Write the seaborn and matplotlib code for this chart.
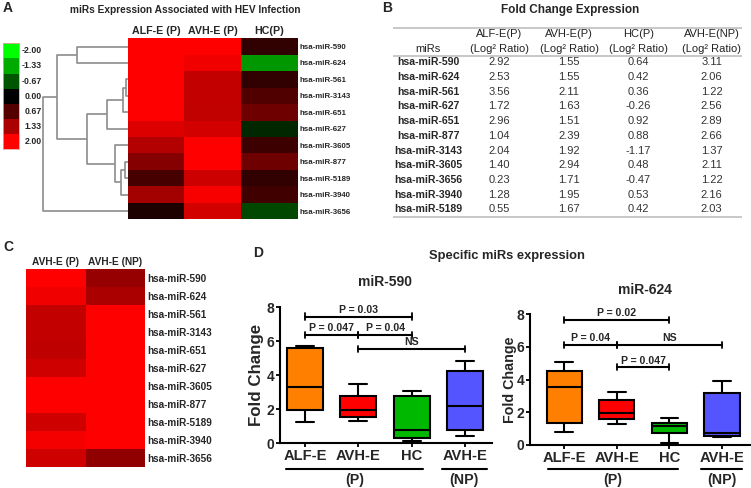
import numpy as np
import pandas as pd
import matplotlib
matplotlib.use("Agg")
import matplotlib.pyplot as plt
import matplotlib.transforms as mtransforms
from matplotlib.colors import LinearSegmentedColormap
import seaborn as sns

sns.set_theme(style="white")
plt.rcParams["font.family"] = ["Liberation Sans", "DejaVu Sans"]

# ---------------- data ----------------
# Panel A heatmap (display values, log2 ratio)
mirs_a = ["hsa-miR-590", "hsa-miR-624", "hsa-miR-561", "hsa-miR-3143", "hsa-miR-651",
          "hsa-miR-627", "hsa-miR-3605", "hsa-miR-877", "hsa-miR-5189", "hsa-miR-3940",
          "hsa-miR-3656"]
cols_a = ["ALF-E (P)", "AVH-E (P)", "HC(P)"]
a_alf = [2.92, 2.53, 3.56, 2.04, 2.96, 1.72, 1.40, 1.04, 0.55, 1.28, 0.23]
a_avh = [2.20, 1.88, 1.53, 1.53, 1.50, 1.65, 2.50, 2.40, 1.60, 1.95, 1.65]
a_hc = [0.39, -1.18, 0.39, 0.63, 0.86, -0.31, 0.47, 0.86, 0.39, 0.51, -0.55]

# dendrogram linkage: (child a, child b, distance); new ids start at 11
link_a = [(0, 1, 0.597), (2, 3, 0.02), (12, 4, 0.052), (13, 5, 0.249),
          (7, 8, 0.032), (15, 9, 0.083), (6, 16, 0.15), (14, 17, 0.486),
          (11, 18, 0.841), (19, 10, 1.0)]

legend_levels = [-2.00, -1.33, -0.67, 0.00, 0.67, 1.33, 2.00]

# Panel B table
table_mirs = ["hsa-miR-590", "hsa-miR-624", "hsa-miR-561", "hsa-miR-627", "hsa-miR-651",
              "hsa-miR-877", "hsa-miR-3143", "hsa-miR-3605", "hsa-miR-3656",
              "hsa-miR-3940", "hsa-miR-5189"]
table_heads = ["ALF-E(P)", "AVH-E(P)", "HC(P)", "AVH-E(NP)"]
t_alf = [2.92, 2.53, 3.56, 1.72, 2.96, 1.04, 2.04, 1.40, 0.23, 1.28, 0.55]
t_avh = [1.55, 1.55, 2.11, 1.63, 1.51, 2.39, 1.92, 2.94, 1.71, 1.95, 1.67]
t_hc = [0.64, 0.42, 0.36, -0.26, 0.92, 0.88, -1.17, 0.48, -0.47, 0.53, 0.42]
t_np = [3.11, 2.06, 1.22, 2.56, 2.89, 2.66, 1.37, 2.11, 1.22, 2.16, 2.03]

# Panel C heatmap
cols_c = ["AVH-E (P)", "AVH-E (NP)"]
c_p = [2.20, 1.88, 1.53, 1.53, 1.49, 1.61, 2.40, 2.40, 1.61, 1.92, 1.61]
c_np = [1.18, 1.33, 2.20, 2.20, 2.20, 2.20, 2.20, 2.20, 2.20, 2.20, 1.14]

# Panel D box plots: five-number summaries (min, Q1, median, Q3, max)
box_keys = ["ALF-E", "AVH-E", "HC", "AVH-E NP"]
box_labels = ["ALF-E", "AVH-E", "HC", "AVH-E"]
box_colors = ["#ff8000", "#ff0000", "#00b800", "#5555ff"]
m590 = {"ALF-E": [1.24, 1.96, 3.30, 5.63, 5.74],
        "AVH-E": [1.31, 1.57, 1.96, 2.80, 3.47],
        "HC": [0.14, 0.29, 0.78, 2.80, 3.06],
        "AVH-E NP": [0.45, 0.78, 2.18, 4.24, 4.83]}
m624 = {"ALF-E": [0.81, 1.32, 3.54, 4.54, 5.05],
        "AVH-E": [1.26, 1.57, 1.97, 2.73, 3.22],
        "HC": [0.10, 0.75, 1.18, 1.36, 1.63],
        "AVH-E NP": [0.51, 0.57, 0.75, 3.16, 3.93]}
# significance brackets: (x1 index, x2 index, y, label)
sig590 = [(0, 2, 7.45, "P = 0.03"), (0, 1, 6.37, "P = 0.047"),
          (1, 2, 6.37, "P = 0.04"), (1, 3, 5.55, "NS")]
sig624 = [(0, 2, 7.63, "P = 0.02"), (0, 1, 6.10, "P = 0.04"),
          (1, 3, 6.10, "NS"), (1, 2, 4.74, "P = 0.047")]

# ---------------- figure ----------------
W, H = 751, 488
fig = plt.figure(figsize=(W / 100, H / 100), dpi=100)
fig.patch.set_facecolor("white")


def rect(l, t, r, b):
    return [l / W, 1 - b / H, (r - l) / W, (b - t) / H]


ov = fig.add_axes([0, 0, 1, 1])
ov.set_xlim(0, W)
ov.set_ylim(H, 0)
ov.axis("off")
ov.patch.set_alpha(0)

cmap = LinearSegmentedColormap.from_list("gkr", ["#00ff00", "#000000", "#ff0000"])

# ---- Panel A ----
ov.text(8, 8, "A", fontsize=10, fontweight="bold", ha="center", va="center")
ov.text(185, 10, "miRs Expression Associated with HEV Infection", fontsize=7.3,
        fontweight="bold", ha="center", va="center")

dfa = pd.DataFrame({cols_a[0]: a_alf, cols_a[1]: a_avh, cols_a[2]: a_hc}, index=mirs_a)
axa = fig.add_axes(rect(127.7, 38.3, 297.7, 219.3))
sns.heatmap(dfa, cmap=cmap, vmin=-2, vmax=2, cbar=False, ax=axa,
            xticklabels=True, yticklabels=True)
axa.xaxis.tick_top()
axa.yaxis.tick_right()
axa.tick_params(length=0, pad=1.5)
axa.set_xticklabels(cols_a, fontsize=7.7, fontweight="bold", rotation=0)
axa.set_yticklabels(mirs_a, fontsize=5.7, fontweight="bold", rotation=0)
axa.set_xlabel("")
axa.set_ylabel("")

# dendrogram
axd = fig.add_axes(rect(43.3, 38.3, 127.7, 219.3))
n = len(mirs_a)
pos = {i: i + 0.5 for i in range(n)}
hgt = {i: 0.0 for i in range(n)}
for k, (ca, cb, d) in enumerate(link_a):
    ya, yb = pos[ca], pos[cb]
    axd.plot([hgt[ca], d, d, hgt[cb]], [ya, ya, yb, yb], color="#8c8c8c",
             lw=1.2, solid_capstyle="butt", clip_on=False)
    pos[n + k] = (ya + yb) / 2
    hgt[n + k] = d
axd.set_xlim(1.0, 0.0)
axd.set_ylim(n, 0)
axd.axis("off")

# colour legend
axl = fig.add_axes(rect(2.7, 43.3, 19.0, 149.0))
sns.heatmap(np.array(legend_levels).reshape(-1, 1), cmap=cmap, vmin=-2, vmax=2,
            cbar=False, xticklabels=False, yticklabels=False, ax=axl)
for s in axl.spines.values():
    s.set_visible(True)
    s.set_color("#e8a0a0")
    s.set_linewidth(0.6)
blend = mtransforms.blended_transform_factory(axl.transAxes, axl.transData)
for i, v in enumerate(legend_levels):
    axl.text(2.39, i + 0.5, f"{v:.2f}", transform=blend, ha="right", va="center",
             fontsize=6.3, fontweight="bold")

# ---- Panel B ----
ov.text(386.7, 7.5, "B", fontsize=10, fontweight="bold", ha="center", va="center")
ov.text(570, 10, "Fold Change Expression", fontsize=8.5, fontweight="bold",
        ha="center", va="center")
col_x = [428.3, 499.3, 569.0, 638.3, 711.7]
row_y0, row_dy = 62.3, 14.7
ov.hlines([28.3, 56.0, 216.7], 393.3, 741.7, color="#c8c8c8", lw=1.4)
ov.text(col_x[0], 49, "miRs", fontsize=8, ha="center", va="center", color="#222222")
for j, hname in enumerate(table_heads):
    ov.text(col_x[j + 1], 34.3, hname, fontsize=8, ha="center", va="center", color="#222222")
    ov.text(col_x[j + 1], 49, "(Log² Ratio)", fontsize=8, ha="center", va="center",
            color="#222222")
for i, name in enumerate(table_mirs):
    y = row_y0 + i * row_dy
    ov.text(col_x[0], y, name, fontsize=7.6, fontweight="bold", ha="center", va="center")
    for j, arr in enumerate([t_alf, t_avh, t_hc, t_np]):
        ov.text(col_x[j + 1], y, f"{arr[i]:.2f}", fontsize=8, ha="center", va="center",
                color="#333333")

# ---- Panel C ----
ov.text(8, 247, "C", fontsize=10, fontweight="bold", ha="center", va="center")
dfc = pd.DataFrame({cols_c[0]: c_p, cols_c[1]: c_np}, index=mirs_a)
axc = fig.add_axes(rect(26, 269, 145, 467.3))
sns.heatmap(dfc, cmap=cmap, vmin=-2, vmax=2, cbar=False, ax=axc,
            xticklabels=True, yticklabels=True)
axc.xaxis.tick_top()
axc.yaxis.tick_right()
axc.tick_params(length=0, pad=1.5)
axc.set_xticklabels(cols_c, fontsize=7.3, fontweight="bold", rotation=0)
axc.set_yticklabels(mirs_a, fontsize=7.2, fontweight="bold", rotation=0)
axc.set_xlabel("")
axc.set_ylabel("")

# ---- Panel D ----
ov.text(258, 253, "D", fontsize=10, fontweight="bold", ha="center", va="center")
ov.text(507, 256, "Specific miRs expression", fontsize=9.3, fontweight="bold",
        ha="center", va="center")


def box_panel(r, summ, sig, title, title_xy, xlim, ylab_size, ylab_x, line_y, text_y,
              p_span, np_span):
    ax = fig.add_axes(r)
    rows = []
    for key in box_keys:
        for v in summ[key]:
            rows.append({"group": key, "value": v})
    df = pd.DataFrame(rows)
    sns.boxplot(data=df, x="group", y="value", hue="group", order=box_keys,
                hue_order=box_keys, palette=box_colors, legend=False, whis=(0, 100),
                width=0.67, linewidth=1.5, linecolor="black", saturation=1,
                showfliers=False, ax=ax)
    ax.set_xlim(*xlim)
    ax.set_ylim(0, 8)
    ax.set_yticks([0, 2, 4, 6, 8])
    ax.set_xticks(range(len(box_keys)))
    ax.set_xticklabels(box_labels, fontsize=10.6, fontweight="bold")
    for lab in ax.get_xticklabels():
        lab.set_fontweight("bold")
    for lab in ax.get_yticklabels():
        lab.set_fontsize(10)
        lab.set_fontweight("bold")
    ax.set_xlabel("")
    ax.set_ylabel("Fold Change", fontsize=ylab_size, fontweight="bold", va="center")
    ax.yaxis.set_label_coords(ylab_x, 0.5)
    sns.despine(ax=ax)
    for s in ["left", "bottom"]:
        ax.spines[s].set_linewidth(1.5)
        ax.spines[s].set_color("black")
    ax.tick_params(axis="both", direction="out", length=3, width=1.3, color="black",
                   pad=1, bottom=True, left=True)
    ax.patch.set_alpha(0)
    for x1, x2, y, lab in sig:
        ax.plot([x1, x2], [y, y], color="black", lw=1.5, clip_on=False)
        for xe in (x1, x2):
            ax.plot([xe, xe], [y - 0.19, y + 0.19], color="black", lw=1.3, clip_on=False)
        ax.text((x1 + x2) / 2, y + 0.1, lab, ha="center", va="bottom", fontsize=7.6,
                fontweight="bold", clip_on=False)
    tr = mtransforms.blended_transform_factory(ax.transData, ax.transAxes)
    ax.plot(p_span, [line_y, line_y], color="black", lw=1.5, transform=tr, clip_on=False)
    ax.plot(np_span, [line_y, line_y], color="black", lw=1.5, transform=tr, clip_on=False)
    ax.text(np.mean(p_span), text_y, "(P)", transform=tr, ha="center", va="center",
            fontsize=10.3, fontweight="bold")
    ax.text(np.mean(np_span), text_y, "(NP)", transform=tr, ha="center", va="center",
            fontsize=10.3, fontweight="bold")
    ov.text(title_xy[0], title_xy[1], title, fontsize=10, fontweight="bold",
            ha="center", va="center")
    return ax


box_panel(rect(280, 307.3, 492, 443.3), m590, sig590, "miR-590", (385, 282),
          (-0.467, 3.5), 12.2, -0.11, (443.3 - 469) / 136, (443.3 - 480) / 136,
          [-0.35, 2.2], [2.56, 3.4])
box_panel(rect(530, 314, 751, 445), m624, sig624, "miR-624", (645, 290),
          (-0.65, 3.55), 10.3, -0.092, (445 - 469) / 131, (445 - 480) / 131,
          [-0.3, 2.16], [2.6, 3.38])

fig.savefig("out.png", dpi=100, facecolor="white")
